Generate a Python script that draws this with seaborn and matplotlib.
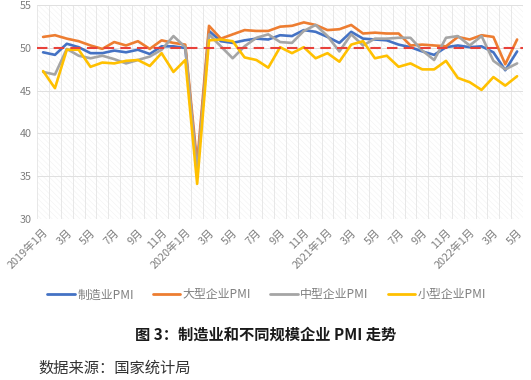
import numpy as np
import pandas as pd
import matplotlib
matplotlib.use("Agg")
import matplotlib.pyplot as plt
from matplotlib.patches import Rectangle
from matplotlib.lines import Line2D
import seaborn as sns

# monthly PMI, 2019-01 .. 2022-05
months = [f"{y}-{m:02d}" for y in range(2019, 2023) for m in range(1, 13)][:41]

mfg_pmi = [49.5, 49.2, 50.5, 50.1, 49.4, 49.4, 49.7, 49.5, 49.8, 49.3, 50.2, 50.2,
           50.0, 35.7, 52.0, 50.8, 50.6, 50.9, 51.1, 51.0, 51.5, 51.4, 52.1, 51.9,
           51.3, 50.6, 51.9, 51.1, 51.0, 50.9, 50.4, 50.1, 49.6, 49.2, 50.1, 50.3,
           50.1, 50.2, 49.5, 47.4, 49.6]
large_pmi = [51.3, 51.5, 51.1, 50.8, 50.3, 49.9, 50.7, 50.3, 50.8, 49.9, 50.9, 50.6,
             50.4, 36.5, 52.6, 51.1, 51.6, 52.1, 52.0, 52.0, 52.5, 52.6, 53.0, 52.7,
             52.1, 52.2, 52.7, 51.7, 51.8, 51.7, 51.7, 50.3, 50.4, 50.3, 50.2, 51.3,
             51.0, 51.5, 51.3, 48.1, 51.0]
medium_pmi = [47.2, 46.9, 49.9, 49.1, 48.8, 49.1, 48.7, 48.2, 48.6, 49.0, 49.8, 51.4,
              50.1, 35.5, 51.6, 50.2, 48.8, 50.2, 51.2, 51.6, 50.7, 50.6, 52.0, 52.7,
              51.4, 49.6, 51.6, 50.3, 51.1, 51.1, 51.2, 51.2, 49.7, 48.6, 51.2, 51.4,
              50.3, 51.4, 48.5, 47.5, 48.2]
small_pmi = [47.3, 45.3, 49.8, 49.8, 47.8, 48.3, 48.2, 48.5, 48.6, 47.9, 49.4, 47.2,
             48.6, 34.1, 50.9, 51.0, 50.8, 48.9, 48.6, 47.7, 50.1, 49.4, 50.1, 48.8,
             49.4, 48.4, 50.4, 50.8, 48.8, 49.1, 47.8, 48.2, 47.5, 47.5, 48.5, 46.5,
             46.0, 45.1, 46.6, 45.6, 46.7]

series_names = ["制造业PMI", "大型企业PMI", "中型企业PMI", "小型企业PMI"]
colors = ["#4472C4", "#ED7D31", "#A5A5A5", "#FFC000"]

tick_labels = []
for m in months:
    y, mm = m.split("-")
    mm = int(mm)
    tick_labels.append(f"{y}年{mm}月" if mm == 1 else f"{mm}月")

df = pd.DataFrame({"idx": np.arange(len(months)),
                   series_names[0]: mfg_pmi, series_names[1]: large_pmi,
                   series_names[2]: medium_pmi, series_names[3]: small_pmi})
long = df.melt(id_vars="idx", var_name="series", value_name="pmi")

sns.set_theme(style="white")
plt.rcParams['font.family'] = ['Noto Sans CJK SC', 'DejaVu Sans']
plt.rcParams['hatch.linewidth'] = 0.35

fig = plt.figure(figsize=(5.31, 3.80), dpi=100)
ax = fig.add_axes([0.070, 0.424, 0.915, 0.562])

# very light diagonal hatch in the plot area
ax.add_patch(Rectangle((0, 0), 1, 1, transform=ax.transAxes, facecolor="none",
                       edgecolor="#f0f0f0", linewidth=0, hatch="\\\\\\\\\\\\", zorder=0))

sns.lineplot(data=long, x="idx", y="pmi", hue="series", palette=colors,
             hue_order=series_names, linewidth=1.9, legend=False, ax=ax, zorder=3)
ax.axhline(50, color="#E8413A", linestyle=(0, (5, 3)), linewidth=1.5, zorder=4)

n = len(months)
ax.set_xlim(-0.5, n - 0.5)
ax.set_ylim(30, 55)
ax.set_yticks(range(30, 56, 5))
ax.set_xticks(range(0, n, 2))
ax.set_xticklabels(tick_labels[::2], rotation=45, ha="right", rotation_mode="anchor")
ax.set_xticks(np.arange(-0.5, n, 1), minor=True)
ax.grid(axis="x", which="minor", color="#e4e4e4", linewidth=0.6)
ax.grid(axis="y", which="major", color="#e0e0e0", linewidth=0.7)
ax.tick_params(axis="both", which="both", length=0, labelsize=7.8, colors="#7f7f7f", pad=4)
ax.tick_params(axis="x", pad=6)
ax.set_xlabel("")
ax.set_ylabel("")
for s in ax.spines.values():
    s.set_visible(False)

handles = [Line2D([0], [0], color=c, linewidth=2.0) for c in colors]
fig.legend(handles, series_names, loc="center", bbox_to_anchor=(0.502, 0.224), ncol=4,
           frameon=False, fontsize=8.6, handlelength=2.3, handletextpad=0.2,
           columnspacing=1.6, labelcolor="#7f7f7f")

fig.text(0.5, 0.118, "图 3：制造业和不同规模企业 PMI 走势", ha="center", va="center",
         fontsize=11, fontweight="bold", color="#1a1a1a")
fig.text(0.072, 0.030, "数据来源：国家统计局", ha="left", va="center",
         fontsize=11, color="#333333")

fig.savefig("out.png", dpi=100)
